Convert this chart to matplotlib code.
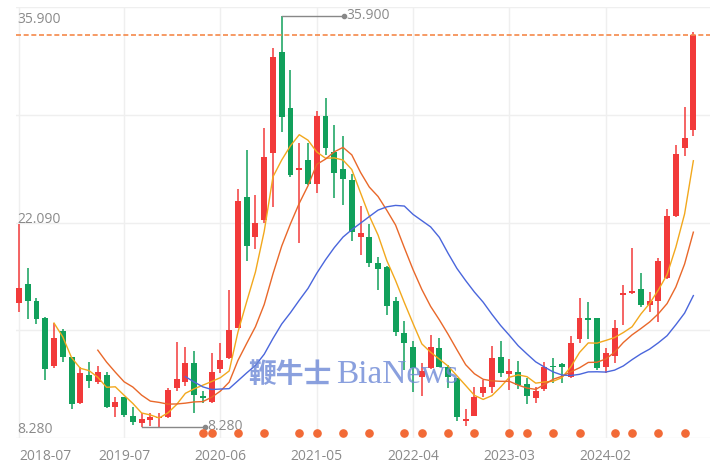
import numpy as np
import pandas as pd
import matplotlib
matplotlib.use('Agg')
from matplotlib import pyplot as plt
from matplotlib import transforms

"""
月K线图 + MA5/MA10/MA20，数值从参考图上读取
"""

months = pd.period_range('2018-07', periods=78, freq='M').strftime('%Y-%m').tolist()

opens = [16.59, 17.89, 16.77, 15.63, 12.38, 14.73, 12.96, 9.91, 11.77, 11.28,
         11.75, 9.60, 10.27, 9.02, 8.57, 8.75, 8.86, 8.97, 10.88, 11.32,
         12.56, 10.36, 9.98, 12.16, 12.90, 14.91, 23.76, 21.07, 22.19, 26.71,
         33.50, 29.70, 25.55, 26.22, 24.59, 29.18, 26.78, 25.60, 24.88, 21.03,
         21.03, 19.32, 19.01, 16.77, 14.62, 13.63, 11.62, 12.22, 13.57, 12.29,
         11.55, 8.70, 9.02, 10.58, 10.95, 12.96, 11.84, 12.00, 11.17, 10.21,
         10.81, 12.38, 12.51, 11.66, 14.17, 15.58, 15.58, 12.29, 13.05, 17.15,
         17.26, 17.53, 16.48, 16.77, 18.28, 22.46, 27.01, 28.24]
highs = [21.95, 18.94, 16.93, 15.70, 15.25, 14.84, 13.00, 12.33, 12.67, 12.40,
         12.00, 10.32, 10.30, 9.60, 9.20, 9.20, 9.20, 10.88, 14.01, 13.63,
         13.39, 10.72, 13.23, 13.94, 17.49, 24.25, 26.89, 23.87, 28.35, 33.73,
         35.90, 32.27, 27.39, 27.39, 29.54, 30.37, 28.57, 27.84, 25.28, 23.13,
         21.92, 19.72, 19.10, 17.04, 15.42, 14.08, 12.56, 14.46, 14.24, 12.45,
         11.60, 9.47, 10.99, 11.44, 13.72, 14.08, 12.83, 12.73, 11.55, 10.95,
         12.67, 12.90, 12.56, 14.39, 16.93, 16.70, 15.60, 13.57, 15.47, 17.82,
         20.29, 18.65, 17.37, 19.62, 22.91, 27.23, 29.76, 34.84]
lows = [15.99, 15.52, 15.20, 11.44, 12.22, 12.67, 9.47, 9.85, 10.88, 11.20,
        9.55, 8.97, 8.93, 8.41, 8.28, 8.35, 8.30, 8.86, 10.72, 11.03,
        9.20, 9.87, 9.90, 11.93, 12.85, 14.90, 19.45, 20.22, 21.97, 23.08,
        28.12, 25.10, 20.66, 24.55, 24.02, 26.56, 23.65, 23.20, 20.80, 19.84,
        19.01, 17.49, 15.81, 14.39, 12.11, 10.65, 10.36, 12.20, 12.30, 10.88,
        8.70, 8.35, 9.00, 10.32, 10.55, 11.62, 10.77, 10.81, 9.84, 9.87,
        10.72, 11.21, 11.26, 11.55, 13.94, 14.17, 12.11, 11.89, 12.60, 15.13,
        17.20, 16.32, 16.03, 15.36, 18.21, 22.40, 26.49, 27.84]
closes = [17.60, 16.77, 15.52, 12.18, 14.24, 12.96, 9.82, 11.93, 11.39, 12.00,
          9.60, 9.98, 9.09, 8.64, 8.80, 8.93, 8.97, 10.77, 11.48, 12.56,
          10.43, 10.21, 12.00, 12.78, 14.80, 23.49, 20.44, 21.97, 26.44, 33.12,
          29.13, 25.21, 25.70, 24.59, 29.18, 27.01, 25.33, 24.97, 21.40, 21.34,
          19.28, 18.88, 16.41, 14.68, 13.94, 12.22, 12.06, 13.63, 12.33, 11.62,
          8.97, 8.80, 10.32, 10.95, 12.90, 11.89, 12.06, 11.10, 10.36, 10.72,
          12.29, 12.29, 12.33, 13.94, 15.58, 15.50, 12.22, 13.23, 14.91, 17.26,
          17.44, 16.48, 16.77, 19.46, 22.46, 26.63, 27.68, 34.62]

# 底部圆点所在的月份序号
dot_idx = [21, 22, 25, 28, 32, 34, 37, 40, 44, 46, 49, 52, 56, 58, 61, 64, 68, 70, 73, 76]

tick_labels = ['2018-07', '2019-07', '2020-06', '2021-05', '2022-04', '2023-03', '2024-02']

UP = '#f23a3a'
DOWN = '#11a05b'
LABEL = '#8a8a8a'

df = pd.DataFrame({'open': opens, 'high': highs, 'low': lows, 'close': closes}, index=months)
x = np.arange(len(df))
ma5 = df['close'].rolling(5).mean()
ma10 = df['close'].rolling(10).mean()
ma20 = df['close'].rolling(20).mean()

fig = plt.figure(figsize=(7.1, 4.71), dpi=100)
ax = fig.add_axes([16 / 710, 1 - 438 / 471, 694 / 710, 431 / 471])
ax.set_xlim(-0.34, 78.9)
ax.set_ylim(7.54, 36.5)
for s in ax.spines.values():
    s.set_visible(False)
ax.set_xticks([])
ax.set_yticks([])

# 网格
for k in range(5):
    ax.axhline(7.54 + (36.5 - 7.54) * k / 4, color='#efefef', lw=1, zorder=0)
for lab in tick_labels:
    ax.axvline(months.index(lab), color='#efefef', lw=1, zorder=0)

# K线
up = df['close'] >= df['open']
colors = np.where(up, UP, DOWN)
body_bottom = np.minimum(df['open'], df['close'])
body_h = np.maximum(np.abs(df['close'] - df['open']), 0.08)
ax.vlines(x, df['low'], df['high'], colors=colors, lw=1.1, zorder=2)
ax.bar(x, body_h, bottom=body_bottom, width=0.68, color=colors, zorder=3, linewidth=0)

# 均线
ax.plot(x, ma5, color='#f2a81d', lw=1.0, zorder=4)
ax.plot(x, ma10, color='#e9682a', lw=1.0, zorder=4)
ax.plot(x, ma20, color='#4a66dc', lw=1.0, zorder=4)

# 最新价虚线
ax.axhline(closes[-1], color='#f5894a', lw=1.2, dashes=(3, 1.6), zorder=5)

# 最高/最低标注
hi = int(np.argmax(highs))
lo = int(np.argmin(lows))
ax.plot([hi, hi + 7.1], [highs[hi], highs[hi]], color='#888888', lw=1, zorder=5)
ax.plot(hi + 7.1, highs[hi], 'o', color='#888888', ms=3, zorder=5)
ax.text(hi + 7.35, highs[hi], f'{highs[hi]:.3f}', color=LABEL, fontsize=10,
        family='Open Sans', va='center', ha='left')
ax.plot([lo, lo + 7.2], [lows[lo], lows[lo]], color='#888888', lw=1, zorder=5)
ax.plot(lo + 7.2, lows[lo], 'o', color='#888888', ms=3, zorder=5)
ax.text(lo + 7.45, lows[lo], f'{lows[lo]:.3f}', color=LABEL, fontsize=10,
        family='Open Sans', va='center', ha='left')

# 底部圆点
trans = transforms.blended_transform_factory(ax.transData, ax.transAxes)
ax.plot(dot_idx, [0.012] * len(dot_idx), 'o', color='#f26a36', ms=5.2,
        transform=trans, clip_on=False, zorder=6)

# y轴标签：最高、中间、最低
y_max, y_min = max(highs), min(lows)
for val, fy in [(y_max, 0.97), ((y_max + y_min) / 2, 0.506), (y_min, 0.019)]:
    ax.text(0.002, fy, f'{val:.3f}', transform=ax.transAxes, color=LABEL,
            fontsize=10, family='Open Sans', va='center', ha='left')

# x轴标签
for lab in tick_labels:
    i = months.index(lab)
    ax.text(i + (0.1 if i == 0 else 0), -0.044, lab, transform=trans, color=LABEL,
            fontsize=10, family='Open Sans', va='center',
            ha='left' if i == 0 else 'center', clip_on=False)

# 水印
ax.text(0.334, 0.146, '鞭牛士', transform=ax.transAxes, color='#6d88d6', alpha=0.8,
        fontsize=20, family=['Noto Sans CJK SC'], weight='bold',
        va='center', ha='left', zorder=7)
ax.text(0.461, 0.146, 'BiaNews', transform=ax.transAxes, color='#6d88d6', alpha=0.8,
        fontsize=24, family=['Liberation Serif'], va='center', ha='left', zorder=7)

fig.savefig('out.png', dpi=100)
